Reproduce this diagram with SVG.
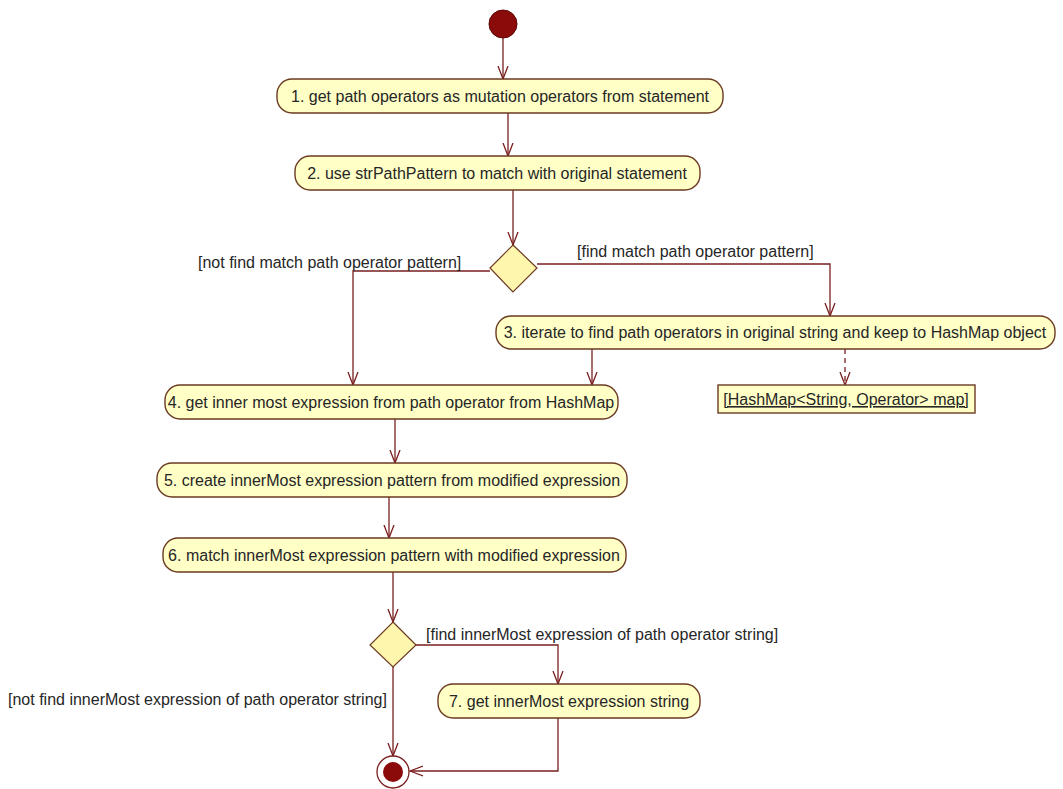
<svg xmlns="http://www.w3.org/2000/svg" width="1063" height="789" viewBox="0 0 1063 789">
  <style>
    .bg { fill: #ffffff; }
    .action { fill: #ffffc6; stroke: #6b3a22; stroke-width: 1.4; }
    .decision { fill: #fff6ad; stroke: #6b3a22; stroke-width: 1.2; }
    .object { fill: #ffffc6; stroke: #6b3a22; stroke-width: 1.4; }
    .label { font-family: "Liberation Sans", Arial, sans-serif; font-size: 16px; fill: #262626; }
    .guard { font-family: "Liberation Sans", Arial, sans-serif; font-size: 16px; fill: #262626; }
    .flow { fill: none; stroke: #7a1f1f; stroke-width: 1.3; }
    .dep { fill: none; stroke: #7a1f1f; stroke-width: 1.3; stroke-dasharray: 5 4; }
  </style>
  <defs>
    <marker id="open" viewBox="0 0 14 12" refX="13" refY="6" markerWidth="14" markerHeight="12" markerUnits="userSpaceOnUse" orient="auto">
      <path d="M0,1 L13,6 L0,11" fill="none" stroke="#7a1f1f" stroke-width="1.3"/>
    </marker>
  </defs>
  <rect class="bg" x="0" y="0" width="1063" height="789"/>

  <!-- control flows -->
  <g id="connectors">
    <line class="flow" x1="503" y1="38" x2="503" y2="79" marker-end="url(#open)"/>
    <line class="flow" x1="508" y1="113" x2="508" y2="156" marker-end="url(#open)"/>
    <line class="flow" x1="513" y1="190" x2="513" y2="245" marker-end="url(#open)"/>
    <polyline class="flow" points="490,271 353,271 353,385" marker-end="url(#open)"/>
    <polyline class="flow" points="537,264 830,264 830,316" marker-end="url(#open)"/>
    <line class="flow" x1="592" y1="349" x2="592" y2="385" marker-end="url(#open)"/>
    <line class="dep" x1="845" y1="349" x2="845" y2="385" marker-end="url(#open)"/>
    <line class="flow" x1="395" y1="419" x2="395" y2="463" marker-end="url(#open)"/>
    <line class="flow" x1="389" y1="497" x2="389" y2="538" marker-end="url(#open)"/>
    <line class="flow" x1="393" y1="572" x2="393" y2="622" marker-end="url(#open)"/>
    <polyline class="flow" points="416,645 558,645 558,684" marker-end="url(#open)"/>
    <line class="flow" x1="393" y1="667" x2="393" y2="756" marker-end="url(#open)"/>
    <polyline class="flow" points="558,718 558,771 410,771" marker-end="url(#open)"/>
    <text class="guard" x="198" y="268">[not find match path operator pattern]</text>
    <text class="guard" x="577" y="257">[find match path operator pattern]</text>
    <text class="guard" x="426" y="640">[find innerMost expression of path operator string]</text>
    <text class="guard" x="8" y="705">[not find innerMost expression of path operator string]</text>
  </g>

  <g id="start">
    <circle cx="503" cy="24" r="14" fill="#8b0a0a" stroke="#5a0606" stroke-width="1"/>
  </g>

  <g id="action1">
    <rect class="action" x="277" y="79" width="446" height="34" rx="15"/>
    <text class="label" x="500" y="102" text-anchor="middle">1. get path operators as mutation operators from statement</text>
  </g>

  <g id="action2">
    <rect class="action" x="295" y="156" width="405" height="34" rx="15"/>
    <text class="label" x="497" y="179" text-anchor="middle">2. use strPathPattern to match with original statement</text>
  </g>

  <g id="decision1">
    <polygon class="decision" points="513,245 537,268 513,292 490,268"/>
  </g>

  <g id="action3">
    <rect class="action" x="496" y="316" width="559" height="33" rx="15"/>
    <text class="label" x="775" y="338" text-anchor="middle">3. iterate to find path operators in original string and keep to HashMap object</text>
  </g>

  <g id="hashmap">
    <rect class="object" x="718" y="385" width="257" height="28"/>
    <text class="label" x="846" y="405" text-anchor="middle" text-decoration="underline">[HashMap&lt;String, Operator&gt; map]</text>
  </g>

  <g id="action4">
    <rect class="action" x="165" y="385" width="453" height="34" rx="15"/>
    <text class="label" x="391" y="408" text-anchor="middle">4. get inner most expression from path operator from HashMap</text>
  </g>

  <g id="action5">
    <rect class="action" x="157" y="463" width="470" height="34" rx="15"/>
    <text class="label" x="392" y="486" text-anchor="middle">5. create innerMost expression pattern from modified expression</text>
  </g>

  <g id="action6">
    <rect class="action" x="163" y="538" width="463" height="34" rx="15"/>
    <text class="label" x="394" y="561" text-anchor="middle">6. match innerMost expression pattern with modified expression</text>
  </g>

  <g id="decision2">
    <polygon class="decision" points="393,622 416,645 393,667 370,645"/>
  </g>

  <g id="action7">
    <rect class="action" x="438" y="684" width="262" height="34" rx="15"/>
    <text class="label" x="569" y="707" text-anchor="middle">7. get innerMost expression string</text>
  </g>

  <g id="end">
    <circle cx="393" cy="772" r="16" fill="#ffffff" stroke="#7a1f1f" stroke-width="1.3"/>
    <circle cx="393" cy="772" r="10" fill="#8b0a0a"/>
  </g>
</svg>
